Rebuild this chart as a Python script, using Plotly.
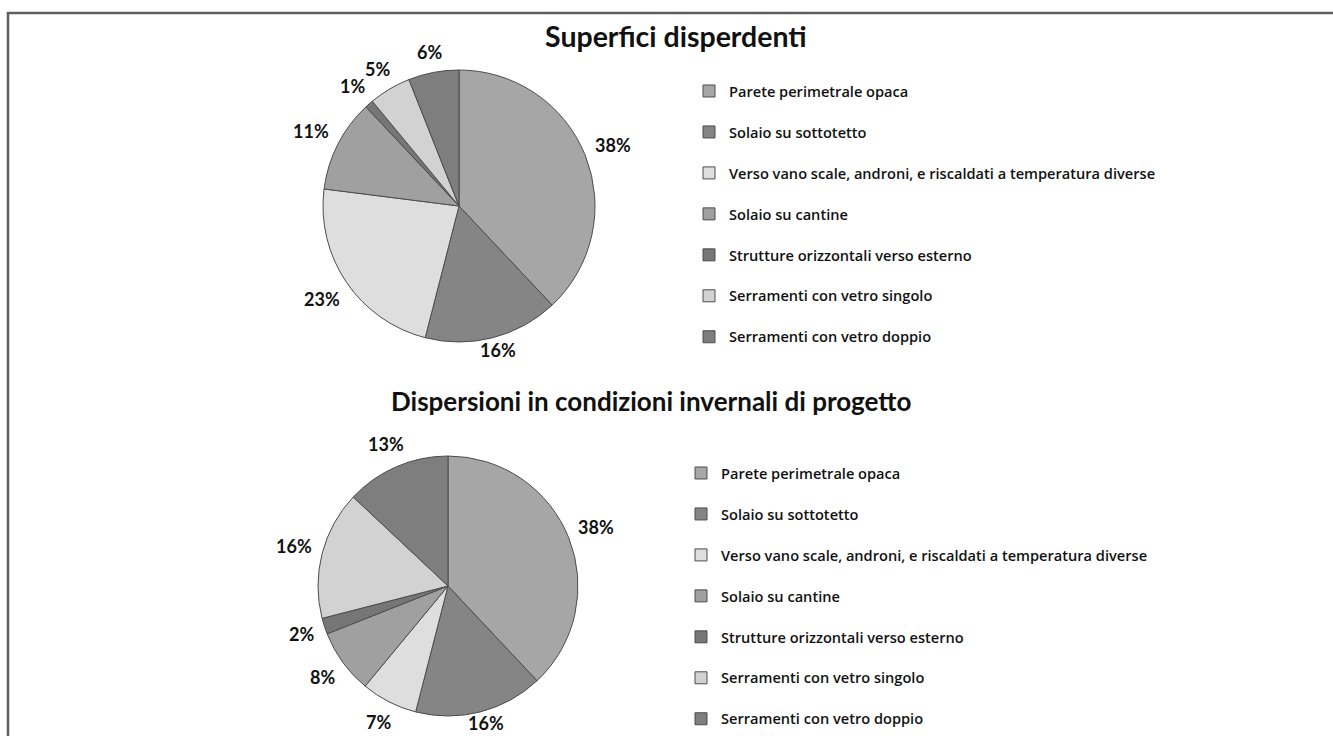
import math
import plotly.graph_objects as go

# Categories shared by both charts
categories = [
    "Parete perimetrale opaca",
    "Solaio su sottotetto",
    "Verso vano scale, androni, e riscaldati a temperatura diverse",
    "Solaio su cantine",
    "Strutture orizzontali verso esterno",
    "Serramenti con vetro singolo",
    "Serramenti con vetro doppio",
]

# Percent shares
superfici = [38, 16, 23, 11, 1, 5, 6]
dispersioni = [38, 16, 7, 8, 2, 16, 13]

titles = ["Superfici disperdenti", "Dispersioni in condizioni invernali di progetto"]

colors = ["#a6a6a6", "#858585", "#dedede", "#a0a0a0", "#767676", "#d2d2d2", "#7e7e7e"]

W, H = 1333, 736
FONT = "Lato"
LEGEND_FONT = "Open Sans"
LABEL_SIZE = 18


def px_x(v):
    return v / W


def px_y(v):
    return 1 - v / H


def pie_domain(cx, cy, r):
    return dict(x=[px_x(cx - r), px_x(cx + r)], y=[px_y(cy + r), px_y(cy - r)])


def outside_labels(values, cx, cy, r, y_max, gap=12):
    """Percent labels set just past the rim at each slice's mid-angle
    (clockwise from 12 o'clock), offset by half the label box."""
    total = float(sum(values))
    anns = []
    start = 0.0
    for v in values:
        text = f"{v}%"
        mid = (start + v / 2.0) / total * 2 * math.pi
        start += v
        s, c = math.sin(mid), math.cos(mid)
        half_w = len(text) * LABEL_SIZE * 0.3
        half_h = 7
        rr = r + gap + abs(s) * half_w + abs(c) * half_h
        x = cx + rr * s
        y = min(cy - rr * c, y_max)
        anns.append(dict(
            text=text, showarrow=False, xref="paper", yref="paper",
            x=px_x(x), y=px_y(y), xanchor="center", yanchor="middle",
            font=dict(family=FONT, size=LABEL_SIZE, color="#111111", weight="bold"),
        ))
    return anns


def legend_labels(spacer, tail):
    # a blank second line widens the gap between entries; the last entry keeps one line
    out = [c + spacer for c in categories[:-1]]
    out.append(categories[-1] + tail)
    return out


charts = [
    dict(values=superfici, cx=459, cy=206, r=136, y_max=350,
         legend="legend", spacer="<br> ", tail=""),
    dict(values=dispersioni, cx=448, cy=586, r=130, y_max=723,
         legend="legend2", spacer="<br>\u00a0", tail="\u00a0"),
]

fig = go.Figure()
annotations = []

for i, ch in enumerate(charts):
    fig.add_trace(go.Pie(
        labels=legend_labels(ch["spacer"], ch["tail"]),
        values=ch["values"],
        sort=False,
        direction="clockwise",
        rotation=0,
        marker=dict(colors=colors, line=dict(color="#4d4d4d", width=1)),
        textinfo="none",
        domain=pie_domain(ch["cx"], ch["cy"], ch["r"]),
        legend=ch["legend"],
        legendgroup=f"g{i}",
        hovertemplate="%{label}: %{value}%<extra></extra>",
    ))
    annotations += outside_labels(ch["values"], ch["cx"], ch["cy"], ch["r"], ch["y_max"])

annotations += [
    dict(text=titles[0], x=px_x(676), y=px_y(36), xref="paper", yref="paper",
         xanchor="center", yanchor="middle", showarrow=False,
         font=dict(family=FONT, size=28.5, color="#111111", weight="bold")),
    dict(text=titles[1], x=px_x(651), y=px_y(401), xref="paper", yref="paper",
         xanchor="center", yanchor="middle", showarrow=False,
         font=dict(family=FONT, size=26, color="#111111", weight="bold")),
]

legend_font = dict(family=LEGEND_FONT, size=14.6, color="#111111", weight=600)

fig.update_layout(
    width=W,
    height=H,
    margin=dict(l=0, r=0, t=0, b=0),
    paper_bgcolor="white",
    plot_bgcolor="white",
    font=dict(family=FONT),
    legend=dict(
        x=px_x(689), y=px_y(75), xanchor="left", yanchor="top",
        font=legend_font, valign="top", itemwidth=30,
        bgcolor="rgba(0,0,0,0)",
    ),
    legend2=dict(
        x=px_x(681), y=px_y(457), xanchor="left", yanchor="top",
        font=legend_font, valign="top", itemwidth=30,
        bgcolor="rgba(0,0,0,0)",
    ),
    annotations=annotations,
    shapes=[
        dict(type="rect", xref="paper", yref="paper",
             x0=px_x(8), x1=1.05, y0=-0.05, y1=px_y(13),
             line=dict(color="#5f5f5f", width=2.5), fillcolor="rgba(0,0,0,0)"),
    ],
)

fig.write_html("out.html")
